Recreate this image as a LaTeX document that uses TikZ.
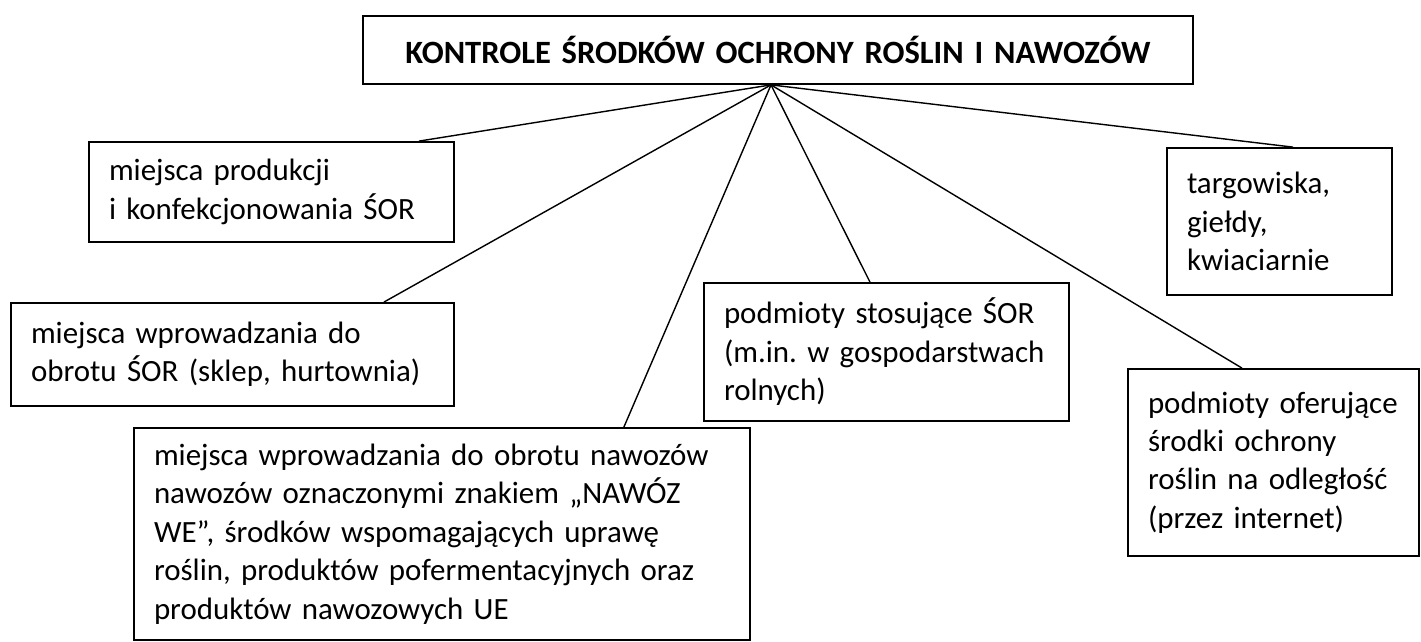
\documentclass[tikz,border=0pt]{standalone}
\usepackage{fontspec}
\setmainfont{Carlito}
\begin{document}
\begin{tikzpicture}[
		box/.style={draw, line width=1pt, inner xsep=0.4cm, inner ysep=0pt, align=left, font=\frenchspacing\fontsize{17.6}{21.9}\selectfont},
		link/.style={line width=0.8pt}]
			\useasboundingbox (0, 0) rectangle (28.42, -12.84);
			\node[box, font=\bfseries\fontsize{18.5}{22}\selectfont, text width=15.8cm, minimum height=1.36cm, align=center] (kontrole) at (15.56, -1.0) {KONTROLE ŚRODKÓW OCHRONY ROŚLIN I NAWOZÓW};
			\coordinate (hub) at ([xshift=-0.14cm]kontrole.south);
			\node[box, text width=6.5cm, minimum height=2cm] (produkcja) at (5.43, -3.84) {miejsca produkcji\\i konfekcjonowania ŚOR};
			\node[box, text width=8.06cm, minimum height=2.06cm] (obrot) at (4.65, -7.09) {miejsca wprowadzania do\\obrotu ŚOR (sklep, hurtownia)};
			\node[box, text width=11.52cm, minimum height=4.24cm] (nawozy) at (8.84, -10.68) {miejsca wprowadzania do obrotu nawozów\\nawozów oznaczonymi znakiem „NAWÓZ\\WE”, środków wspomagających uprawę\\roślin, produktów pofermentacyjnych oraz\\produktów nawozowych UE};
			\node[box, text width=6.5cm, minimum height=2.76cm] (stosujace) at (17.73, -7.04) {podmioty stosujące ŚOR\\(m.in. w gospodarstwach\\rolnych)};
			\node[box, text width=3.7cm, minimum height=2.94cm] (targowiska) at (25.59, -4.43) {targowiska,\\giełdy,\\kwiaciarnie};
			\node[box, text width=5.02cm, minimum height=3.74cm] (oferujace) at (25.47, -9.25) {podmioty oferujące\\środki ochrony\\roślin na odległość\\(przez internet)};
			\draw[link] (hub) -- ([xshift=-0.72cm]produkcja.north east);
			\draw[link] (hub) -- ([xshift=-1.42cm]obrot.north east);
			\draw[link] (hub) -- ([xshift=-2.54cm]nawozy.north east);
			\draw[link] (hub) -- ([xshift=-0.33cm]stosujace.north);
			\draw[link] (hub) -- ([xshift=0.27cm]targowiska.north);
			\draw[link] (hub) -- ([xshift=-0.63cm]oferujace.north);
		\end{tikzpicture}
\end{document}
